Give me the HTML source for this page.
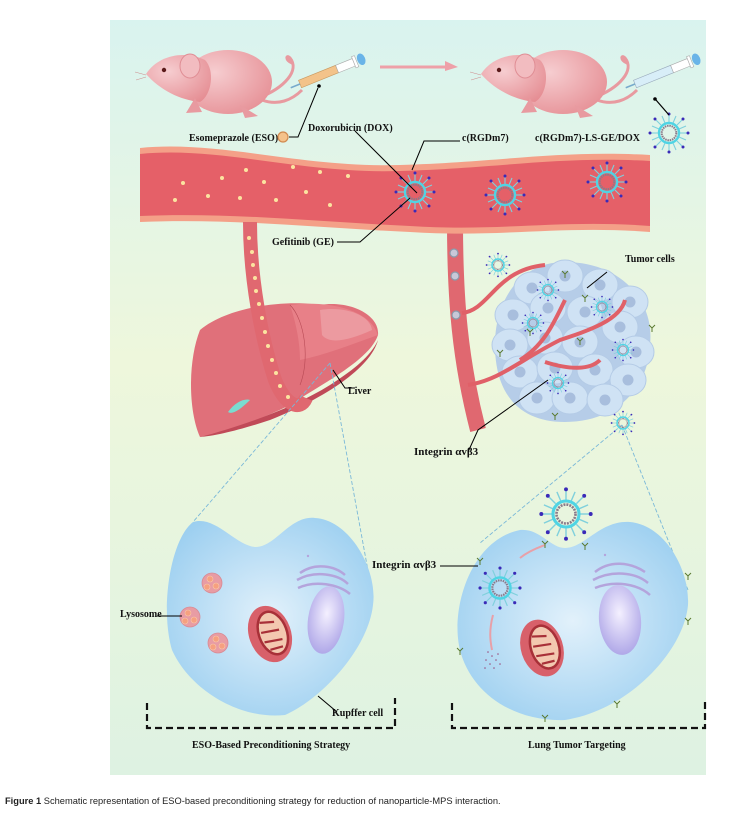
<!DOCTYPE html>
<html><head><meta charset="utf-8">
<style>
html,body{margin:0;padding:0;background:#fff;}
body{width:734px;height:825px;overflow:hidden;position:relative;}
svg{position:absolute;left:0;top:0;}
.cap{position:absolute;left:5px;top:796px;font-family:"Liberation Sans",sans-serif;font-size:9.3px;color:#222;white-space:nowrap;}
</style></head><body>
<svg width="734" height="825" viewBox="0 0 734 825" xmlns="http://www.w3.org/2000/svg" font-family="Liberation Serif, serif">
<defs>
<linearGradient id="bg" x1="0" y1="0" x2="0" y2="1">
<stop offset="0" stop-color="#d9f3ef"/><stop offset="0.45" stop-color="#eef7dc"/><stop offset="1" stop-color="#def2e2"/>
</linearGradient>
<radialGradient id="mouse" cx="0.35" cy="0.35" r="0.8"><stop offset="0" stop-color="#f6cdd0"/><stop offset="1" stop-color="#e58c92"/></radialGradient>
<radialGradient id="cell" cx="0.5" cy="0.5" r="0.6"><stop offset="0" stop-color="#e2f1fb"/><stop offset="1" stop-color="#9ccff0"/></radialGradient>
<radialGradient id="nuc" cx="0.5" cy="0.4" r="0.6"><stop offset="0" stop-color="#f4f0ff"/><stop offset="1" stop-color="#b0a8e8"/></radialGradient>
<g id="np">
<g stroke="#7fd0dc" stroke-width="1.1">
<line x1="0" y1="-11" x2="0" y2="-18"/><line x1="0" y1="11" x2="0" y2="18"/><line x1="-11" y1="0" x2="-18" y2="0"/><line x1="11" y1="0" x2="18" y2="0"/>
<line x1="8" y1="8" x2="13" y2="13"/><line x1="-8" y1="8" x2="-13" y2="13"/><line x1="8" y1="-8" x2="13" y2="-13"/><line x1="-8" y1="-8" x2="-13" y2="-13"/>
<line x1="4" y1="-10" x2="7" y2="-17"/><line x1="-4" y1="10" x2="-7" y2="17"/><line x1="10" y1="4" x2="17" y2="7"/><line x1="-10" y1="-4" x2="-17" y2="-7"/>
<line x1="-4" y1="-10" x2="-7" y2="-17"/><line x1="4" y1="10" x2="7" y2="17"/><line x1="10" y1="-4" x2="17" y2="-7"/><line x1="-10" y1="4" x2="-17" y2="7"/>
</g>
<g fill="#3a2ab8">
<circle cx="0" cy="-19" r="1.5"/><circle cx="0" cy="19" r="1.5"/><circle cx="-19" cy="0" r="1.5"/><circle cx="19" cy="0" r="1.5"/>
<circle cx="14" cy="14" r="1.5"/><circle cx="-14" cy="14" r="1.5"/><circle cx="14" cy="-14" r="1.5"/><circle cx="-14" cy="-14" r="1.5"/>
</g>
<circle r="10" fill="none" stroke="#4fd4e4" stroke-width="2.4"/>
<circle r="7.3" fill="none" stroke="#8a7a8a" stroke-width="2" stroke-dasharray="1.5 0.8"/>
</g>
<g id="nps"><use href="#np" transform="scale(0.55)"/></g>
<g id="rec" stroke="#5a7a30" stroke-width="1" fill="none"><path d="M0 0 L0 -4 M0 -4 L-3 -7 M0 -4 L3 -7"/></g>
<g id="tc"><ellipse rx="18" ry="16" fill="#cfe2f4" stroke="#b4cbe6" stroke-width="1"/><circle r="5.5" fill="#a8bedd"/></g>
<g id="mouse1">
<path d="M258 98 C285 88 300 70 290 58 C286 54 285 60 292 63" fill="none" stroke="#e89aa0" stroke-width="3"/>
<path d="M262 100 C278 106 292 100 302 90" fill="none" stroke="#e89aa0" stroke-width="3"/>
<ellipse cx="228" cy="82" rx="44" ry="32" fill="url(#mouse)"/>
<path d="M146 74 C158 55 185 50 205 60 C215 70 212 95 200 102 C180 100 160 90 146 74Z" fill="url(#mouse)"/>
<ellipse cx="190" cy="66" rx="10" ry="12" fill="#f2bcc0" stroke="#e08e95"/>
<circle cx="164" cy="70" r="2.2" fill="#5a1a1a"/>
<path d="M146 75 L135 72 M146 77 L136 80" stroke="#c88" stroke-width="0.5"/>
<path d="M195 98 L186 113 L202 112 Z M240 105 L245 118 L258 116Z" fill="#e89aa0"/>
</g>
<g id="mito">
<ellipse rx="21" ry="29" fill="#d8606a"/>
<ellipse cx="3" rx="14" ry="22" fill="#f3c8b0" stroke="#a83038" stroke-width="2.5"/>
<path d="M-6 -14 L8 -10 M-8 -4 L10 -1 M-8 6 L10 9 M-5 15 L8 16" stroke="#a83038" stroke-width="2.2"/>
</g>
</defs>

<rect x="110" y="20" width="596" height="755" fill="url(#bg)"/>

<use href="#mouse1"/>
<g transform="translate(300,84) rotate(-22)">
<rect x="0" y="-4" width="40" height="8" fill="#f3c38a" stroke="#c89a60" stroke-width="0.6"/>
<rect x="40" y="-4" width="18" height="8" fill="#fff" stroke="#aaa" stroke-width="0.6"/>
<rect x="58" y="-6" width="3" height="12" fill="#fff" stroke="#aaa" stroke-width="0.6"/>
<ellipse cx="66" cy="0" rx="4" ry="6" fill="#6ab4e8"/>
<line x1="-10" y1="0" x2="0" y2="0" stroke="#7ac" stroke-width="1.5"/>
</g>
<path d="M380 67 L450 67" stroke="#eea0a8" stroke-width="3"/>
<path d="M445 61 L458 67 L445 71Z" fill="#eea0a8"/>
<use href="#mouse1" x="335"/>
<g transform="translate(635,84) rotate(-22)">
<rect x="0" y="-4" width="40" height="8" fill="#d8eef8" stroke="#9ab" stroke-width="0.6"/>
<rect x="40" y="-4" width="18" height="8" fill="#fff" stroke="#aaa" stroke-width="0.6"/>
<rect x="58" y="-6" width="3" height="12" fill="#fff" stroke="#aaa" stroke-width="0.6"/>
<ellipse cx="66" cy="0" rx="4" ry="6" fill="#6ab4e8"/>
<line x1="-10" y1="0" x2="0" y2="0" stroke="#7ac" stroke-width="1.5"/>
</g>

<g font-size="10" font-weight="bold" fill="#111">
<text x="189" y="141">Esomeprazole (ESO)</text>
<text x="308" y="131">Doxorubicin (DOX)</text>
<text x="462" y="141">c(RGDm7)</text>
<text x="535" y="141">c(RGDm7)-LS-GE/DOX</text>
<text x="272" y="245">Gefitinib (GE)</text>
<text x="625" y="262">Tumor cells</text>
<text x="348" y="394">Liver</text>
<text x="414" y="455" font-size="11">Integrin αvβ3</text>
<text x="372" y="568" font-size="11">Integrin αvβ3</text>
<text x="120" y="617">Lysosome</text>
<text x="332" y="716">Kupffer cell</text>
<text x="192" y="748">ESO-Based Preconditioning Strategy</text>
<text x="528" y="748">Lung Tumor Targeting</text>
</g>
<circle cx="283" cy="137" r="5" fill="#f5c28a" stroke="#d08a50" stroke-width="1.2"/>
<path d="M289 137 L298 137 L318 88" fill="none" stroke="#000" stroke-width="1"/>

<!-- right branch vessel -->
<path d="M455 222 C455 300 460 360 478 430" fill="none" stroke="#e06870" stroke-width="16"/>

<!-- vessel -->
<path d="M140 148 C220 140 300 168 400 165 C500 162 560 150 650 155 L650 232 C560 225 500 238 410 232 C320 228 230 218 140 222Z" fill="#f4a088"/>
<path d="M140 154 C220 146 300 174 400 171 C500 168 560 156 650 161 L650 226 C560 219 500 232 410 226 C320 222 230 212 140 216Z" fill="#e56068"/>
<g fill="#fbe4a0"><circle cx="183" cy="183" r="2"/><circle cx="175" cy="200" r="2"/><circle cx="222" cy="178" r="2"/><circle cx="208" cy="196" r="2"/><circle cx="246" cy="170" r="2"/><circle cx="240" cy="198" r="2"/><circle cx="264" cy="182" r="2"/><circle cx="276" cy="200" r="2"/><circle cx="293" cy="167" r="2"/><circle cx="306" cy="192" r="2"/><circle cx="320" cy="172" r="2"/><circle cx="330" cy="205" r="2"/><circle cx="348" cy="176" r="2"/></g>
<use href="#np" x="415" y="192"/>
<use href="#np" x="505" y="195"/>
<use href="#np" x="607" y="182"/>
<use href="#np" x="669" y="133"/>
<path d="M460 141 L424 141 L412 170" fill="none" stroke="#000" stroke-width="1"/>
<path d="M355 131 L417 193" fill="none" stroke="#000" stroke-width="1"/>
<path d="M337 242 L360 242 L410 198" fill="none" stroke="#000" stroke-width="1"/>
<path d="M656 100 L669 115" stroke="#000" stroke-width="1.2"/>
<circle cx="655" cy="99" r="1.8" fill="#000"/><circle cx="319" cy="86" r="1.8" fill="#000"/>

<!-- liver -->
<path d="M200 330 C230 305 290 300 320 305 C350 300 380 315 378 335 C370 360 320 385 290 405 C260 420 230 430 200 437 C188 410 188 360 200 330Z" fill="#e0707a"/>
<path d="M290 305 C330 300 370 310 378 335 C350 345 325 355 300 360 C300 340 295 320 290 305Z" fill="#e88088"/>
<path d="M320 310 C345 306 370 315 372 330 C350 340 330 345 322 335 Z" fill="#ec9aa0"/>
<path d="M200 437 C235 428 290 410 330 385 C350 372 370 358 378 340 C370 370 320 400 270 420 C240 430 215 436 200 437Z" fill="#c04a58"/>
<path d="M228 412 C235 402 245 398 250 400 C240 410 232 415 228 412Z" fill="#7adcd0"/>
<path d="M290 305 C305 320 310 360 300 385" fill="none" stroke="#b84a55" stroke-width="0.6"/>
<!-- left branch vessel on top -->
<path d="M250 222 C250 280 262 340 275 380 C285 405 300 412 306 398" fill="none" stroke="#e06870" stroke-width="14"/>
<g fill="#fbe4a0"><circle cx="249" cy="238" r="2"/><circle cx="252" cy="252" r="2"/><circle cx="253" cy="265" r="2"/><circle cx="255" cy="278" r="2"/><circle cx="256" cy="291" r="2"/><circle cx="259" cy="304" r="2"/><circle cx="262" cy="318" r="2"/><circle cx="265" cy="332" r="2"/><circle cx="268" cy="346" r="2"/><circle cx="272" cy="360" r="2"/><circle cx="276" cy="373" r="2"/><circle cx="280" cy="386" r="2"/><circle cx="288" cy="397" r="2"/></g>
<path d="M333 370 L345 388 L355 388" fill="none" stroke="#000" stroke-width="1"/>

<g stroke="#7ab8d8" stroke-width="0.9" stroke-dasharray="4 2" fill="none">
<path d="M330 363 L193 522"/><path d="M330 363 L373 598"/>
<path d="M622 425 L480 543"/><path d="M622 425 L688 590"/>
</g>

<!-- tumor cluster -->
<path d="M565 262 C620 262 655 300 650 345 C648 390 615 422 565 422 C520 422 495 395 495 345 C495 300 520 262 565 262Z" fill="#b6cde8"/>
<g>
<use href="#tc" x="565" y="276"/><use href="#tc" x="600" y="285"/><use href="#tc" x="532" y="288"/><use href="#tc" x="630" y="302"/>
<use href="#tc" x="513" y="315"/><use href="#tc" x="548" y="308"/><use href="#tc" x="585" y="312"/><use href="#tc" x="620" y="327"/>
<use href="#tc" x="510" y="345"/><use href="#tc" x="545" y="338"/><use href="#tc" x="580" y="342"/><use href="#tc" x="636" y="352"/>
<use href="#tc" x="520" y="372"/><use href="#tc" x="555" y="368"/><use href="#tc" x="595" y="370"/><use href="#tc" x="628" y="380"/>
<use href="#tc" x="537" y="398"/><use href="#tc" x="570" y="398"/><use href="#tc" x="605" y="400"/>
</g>
<g fill="none" stroke="#e06068" stroke-width="4">
<path d="M462 313 C490 310 495 270 545 265"/>
<path d="M468 385 C500 380 520 360 560 340 C590 330 620 320 625 300"/>
<path d="M520 360 C545 345 555 320 565 300"/>
<path d="M545 362 C570 370 590 370 600 360"/>
</g>
<g fill="#c8c8d8" stroke="#8a9aaa" stroke-width="1.2"><circle cx="454" cy="253" r="4"/><circle cx="455" cy="276" r="4"/><circle cx="456" cy="315" r="4"/></g>
<use href="#nps" x="548" y="290"/><use href="#nps" x="602" y="307"/><use href="#nps" x="533" y="323"/>
<use href="#nps" x="623" y="350"/><use href="#nps" x="558" y="383"/>
<g transform="translate(498,265) scale(0.6)"><use href="#np"/></g>
<g transform="translate(623,423) scale(0.6)"><use href="#np"/></g>
<use href="#rec" x="565" y="278"/><use href="#rec" x="500" y="357"/><use href="#rec" x="580" y="345"/><use href="#rec" x="652" y="332"/><use href="#rec" x="555" y="420"/><use href="#rec" x="585" y="302"/><use href="#rec" x="530" y="336"/>
<path d="M587 288 L607 272" stroke="#000" stroke-width="1"/>
<path d="M468 452 L478 430 L548 380" fill="none" stroke="#000" stroke-width="1"/>

<!-- left cell -->
<path d="M193 522 C215 515 235 545 255 547 C275 548 290 515 315 518 C350 520 378 570 373 605 C368 650 320 700 285 715 C240 720 190 690 172 650 C160 610 170 540 193 522Z" fill="url(#cell)"/>
<g fill="none" stroke="#b4a4dc" stroke-width="2.5">
<path d="M300 573 C315 562 335 566 345 575"/><path d="M297 580 C315 570 338 574 348 584"/><path d="M298 588 C315 580 338 584 350 594"/>
</g>
<circle cx="308" cy="556" r="1.2" fill="#b4a4dc"/>
<ellipse cx="326" cy="620" rx="18" ry="34" transform="rotate(8 326 620)" fill="url(#nuc)"/>
<use href="#mito" transform="translate(270,634) rotate(-20)"/>
<g fill="#e89ca4" stroke="#d88a94" stroke-width="0.8"><circle cx="212" cy="583" r="10"/><circle cx="190" cy="617" r="10"/><circle cx="218" cy="643" r="10"/></g>
<g fill="#f6a080" stroke="#f8c8a8" stroke-width="0.6"><circle cx="210" cy="579" r="3"/><circle cx="216" cy="586" r="3"/><circle cx="207" cy="587" r="3"/>
<circle cx="188" cy="613" r="3"/><circle cx="194" cy="620" r="3"/><circle cx="185" cy="621" r="3"/>
<circle cx="216" cy="639" r="3"/><circle cx="222" cy="646" r="3"/><circle cx="213" cy="647" r="3"/></g>
<path d="M157 616 L182 616" stroke="#000" stroke-width="1"/>
<path d="M318 696 L337 712" stroke="#000" stroke-width="1"/>

<!-- right cell -->
<path d="M520 530 C540 528 550 548 565 548 C585 548 600 520 630 522 C665 525 690 570 688 605 C684 650 630 710 565 720 C510 722 470 690 460 650 C450 610 470 540 520 530Z" fill="url(#cell)"/>
<g fill="none" stroke="#b4a4dc" stroke-width="2.5">
<path d="M595 572 C610 560 630 562 645 572"/><path d="M593 580 C612 570 635 572 648 583"/><path d="M595 588 C615 580 638 584 650 595"/>
</g>
<circle cx="605" cy="555" r="1.2" fill="#b4a4dc"/>
<ellipse cx="620" cy="620" rx="21" ry="35" transform="rotate(-5 620 620)" fill="url(#nuc)"/>
<use href="#mito" transform="translate(542,648) rotate(-18)"/>
<path d="M520 558 C530 550 540 547 545 545" stroke="#e8a0a8" stroke-width="2" fill="none"/>
<path d="M493 615 C489 630 490 640 492 650" stroke="#e8a0a8" stroke-width="2" fill="none"/>
<g fill="#9a5080"><circle cx="488" cy="652" r="0.8"/><circle cx="492" cy="656" r="0.8"/><circle cx="496" cy="660" r="0.8"/><circle cx="486" cy="660" r="0.8"/><circle cx="490" cy="664" r="0.8"/><circle cx="498" cy="654" r="0.8"/><circle cx="500" cy="664" r="0.8"/><circle cx="494" cy="668" r="0.8"/><circle cx="485" cy="668" r="0.8"/></g>
<g transform="translate(566,514) scale(1.3)"><use href="#np"/></g>
<g transform="translate(500,588) scale(1.05)"><use href="#np"/></g>
<use href="#rec" x="545" y="548"/><use href="#rec" x="585" y="550"/><use href="#rec" x="480" y="565"/><use href="#rec" x="688" y="580"/><use href="#rec" x="688" y="625"/><use href="#rec" x="460" y="655"/><use href="#rec" x="617" y="708"/><use href="#rec" x="545" y="722"/>
<path d="M440 566 L478 566" stroke="#000" stroke-width="1"/>

<g fill="none" stroke="#111" stroke-width="2.2" stroke-dasharray="7 4">
<path d="M147 703 L147 728 L395 728 L395 698"/>
<path d="M452 703 L452 728 L705 728 L705 698"/>
</g>
</svg>
<div class="cap"><b>Figure 1</b> Schematic representation of ESO-based preconditioning strategy for reduction of nanoparticle-MPS interaction.</div>
</body></html>
